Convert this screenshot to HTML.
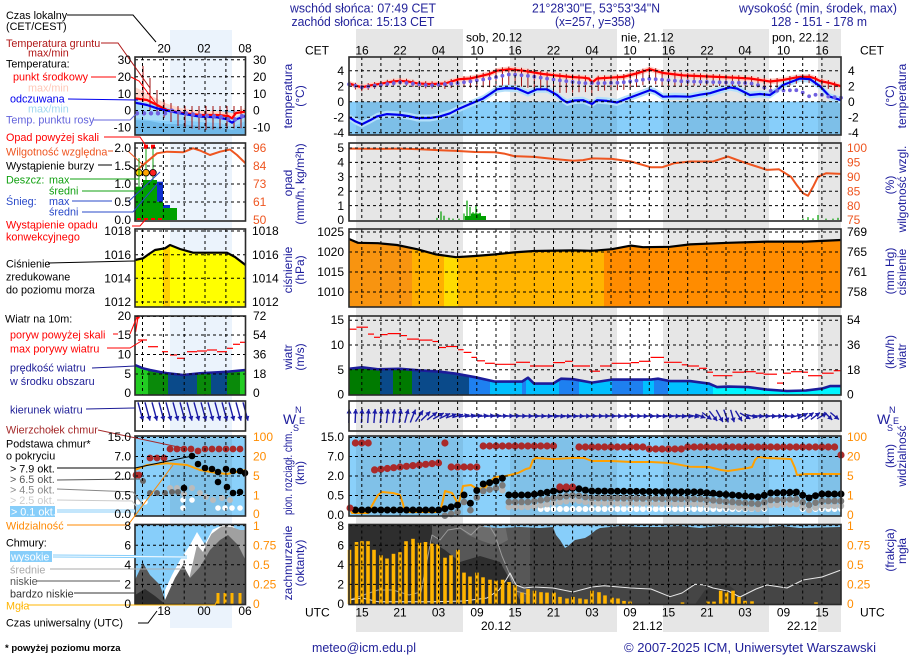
<!DOCTYPE html>
<html><head><meta charset="utf-8"><title>meteogram</title>
<style>
html,body{margin:0;padding:0;background:#fff;width:910px;height:660px;overflow:hidden}
svg{display:block}
text{font-family:"Liberation Sans",Arial,sans-serif}
.ax{font-size:12px;fill:#000}
.lb{font-size:10.8px}
.tt{font-size:12px;fill:#1c1c9c}
.hd{font-size:12.5px;fill:#22229a}
</style></head><body>
<svg id="s" width="910" height="660" viewBox="0 0 910 660" xmlns="http://www.w3.org/2000/svg">
<defs id="defs"></defs>
<rect width="910" height="660" fill="#fff"/>
<g id="bg"></g>
<g id="c"></g>
<g id="gr"></g>
<g id="fr"></g>
<g id="lead" fill="none" stroke-width="1">
<polyline points="67,15 133,15 156,42" stroke="#000"/>
<polyline points="101,43 118,43 150,88" stroke="#b01818"/>
<polyline points="91,77 116,77" stroke="#f00"/>
<polyline points="131,77 139,81 157,105" stroke="#f00"/>
<polyline points="68,99 138,100" stroke="#0000ee"/>
<polyline points="93,120 130,120 137,113" stroke="#6464dc"/>
<polyline points="104,137 140,137 146,146" stroke="#f00"/>
<polyline points="108,151 113,151" stroke="#ee5520"/>
<polyline points="128,151 143,165" stroke="#ee5520"/>
<polyline points="98,165 112,165" stroke="#000"/>
<polyline points="128,165 137,171" stroke="#000"/>
<polyline points="70,179 139,179 139,158" stroke="#10a010"/>
<polyline points="82,191 142,191 150,181" stroke="#10a010"/>
<polyline points="72,201 112,201" stroke="#2848c8"/>
<polyline points="128,202 160,172" stroke="#2848c8"/>
<polyline points="82,212 133,212 157,184" stroke="#2848c8"/>
<polyline points="132,226 140,226 146,219" stroke="#f00"/>
<polyline points="48,263 135,261" stroke="#000"/>
<polyline points="113,334 118,334" stroke="#f00"/>
<polyline points="130,334 137,317" stroke="#f00"/>
<polyline points="107,348 130,348 143,340" stroke="#f00"/>
<polyline points="92,368 135,366" stroke="#1c1c96"/>
<polyline points="86,409 135,408" stroke="#1c1c96"/>
<polyline points="98,430 183,448" stroke="#a52a2a"/>
<polyline points="57,468 135,468 192,456" stroke="#000"/>
<polyline points="57,480 140,479" stroke="#555"/>
<polyline points="57,489 133,492 143,505" stroke="#888"/>
<polyline points="57,500 132,501 137,507" stroke="#ccc"/>
<polyline points="57,511 135,511" stroke="#87cefa" stroke-width="3"/>
<polyline points="57,511 135,511" stroke="#fff"/>
<polyline points="67,525 128,525 173,465" stroke="#ff8800"/>
<polyline points="53,556 187,557" stroke="#87cefa" stroke-width="3"/>
<polyline points="53,556 187,557" stroke="#fff"/>
<polyline points="50,569 185,569" stroke="#aaa"/>
<polyline points="37,581 120,581" stroke="#555"/>
<polyline points="74,593 135,593" stroke="#333"/>
<polyline points="28,605 215,605 219,597" stroke="#ffb400"/>
<polyline points="138,623 148,623 157,611" stroke="#000"/>
</g>
<g id="txt">
<text class="hd" x="363" y="12.5" text-anchor="middle" textLength="146" lengthAdjust="spacingAndGlyphs">wschód słońca: 07:49 CET</text>
<text class="hd" x="363" y="26" text-anchor="middle" textLength="143" lengthAdjust="spacingAndGlyphs">zachód słońca: 15:13 CET</text>
<text class="hd" x="596" y="12.5" text-anchor="middle" textLength="128" lengthAdjust="spacingAndGlyphs">21°28'30"E, 53°53'34"N</text>
<text class="hd" x="595" y="26" text-anchor="middle" textLength="80" lengthAdjust="spacingAndGlyphs">(x=257,  y=358)</text>
<text class="hd" x="818" y="12.5" text-anchor="middle" textLength="158" lengthAdjust="spacingAndGlyphs">wysokość (min, środek, max)</text>
<text class="hd" x="819" y="26" text-anchor="middle" textLength="96" lengthAdjust="spacingAndGlyphs">128 - 151 - 178 m</text>
<text class="ax" x="305" y="54.5">CET</text>
<text class="ax" x="860" y="54.5">CET</text>
<g class="ax" text-anchor="middle">
<text x="362" y="54.5">16</text><text x="400" y="54.5">22</text><text x="438.5" y="54.5">04</text><text x="477" y="54.5">10</text>
<text x="515" y="54.5">16</text><text x="553.5" y="54.5">22</text><text x="592" y="54.5">04</text><text x="630" y="54.5">10</text>
<text x="668.5" y="54.5">16</text><text x="707" y="54.5">22</text><text x="745" y="54.5">04</text><text x="783.5" y="54.5">10</text><text x="822" y="54.5">16</text>
<text x="164" y="52.5">20</text><text x="204" y="52.5">02</text><text x="245" y="52.5">08</text>
</g>
<text class="ax" x="466" y="41.5">sob, 20.12</text>
<text class="ax" x="621" y="41.5">nie, 21.12</text>
<text class="ax" x="772" y="41.5">pon, 22.12</text>
<text class="ax" x="305" y="616.5">UTC</text>
<text class="ax" x="860" y="616.5">UTC</text>
<g class="ax" text-anchor="middle">
<text x="362" y="616.5">15</text><text x="400" y="616.5">21</text><text x="438.5" y="616.5">03</text><text x="477" y="616.5">09</text>
<text x="515" y="616.5">15</text><text x="553.5" y="616.5">21</text><text x="592" y="616.5">03</text><text x="630" y="616.5">09</text>
<text x="668.5" y="616.5">15</text><text x="707" y="616.5">21</text><text x="745" y="616.5">03</text><text x="783.5" y="616.5">09</text><text x="822" y="616.5">15</text>
<text x="496" y="630">20.12</text><text x="647.5" y="630">21.12</text><text x="802" y="630">22.12</text>
<text x="164" y="615">18</text><text x="204" y="615">00</text><text x="245" y="615">06</text>
</g>
<g class="ax" text-anchor="end">
<text x="344" y="74.9">4</text><text x="344" y="90.4">2</text><text x="344" y="105.9">0</text><text x="344" y="121.4">-2</text><text x="344" y="136.9">-4</text>
<text x="344" y="152.2">5</text><text x="344" y="166.6">4</text><text x="344" y="181">3</text><text x="344" y="195.4">2</text><text x="344" y="209.8">1</text><text x="344" y="224.2">0</text>
<text x="344" y="236.2">1025</text><text x="344" y="256.2">1020</text><text x="344" y="276.2">1015</text><text x="344" y="296.2">1010</text>
<text x="344" y="324.2">15</text><text x="344" y="349.2">10</text><text x="344" y="374.2">5</text><text x="344" y="398.7">0</text>
<text x="344" y="441.2">15.0</text><text x="344" y="460.7">7.0</text><text x="344" y="480.2">2.0</text><text x="344" y="499.7">0.5</text><text x="344" y="519.2">0.0</text>
<text x="344" y="529.8">8</text><text x="344" y="549.4">6</text><text x="344" y="569">4</text><text x="344" y="588.6">2</text><text x="344" y="608.2">0</text>
</g>
<g class="ax">
<text x="848" y="74.9">4</text><text x="848" y="90.4">2</text><text x="848" y="105.9">0</text><text x="848" y="121.4">-2</text><text x="848" y="136.9">-4</text>
<g fill="#ee5520"><text x="847" y="152.2">100</text><text x="847" y="166.6">95</text><text x="847" y="181">90</text><text x="847" y="195.4">85</text><text x="847" y="209.8">80</text><text x="847" y="224.2">75</text></g>
<text x="847" y="236.2">769</text><text x="847" y="256.2">765</text><text x="847" y="276.2">761</text><text x="847" y="296.2">758</text>
<text x="847" y="324.2">54</text><text x="847" y="349.2">36</text><text x="847" y="374.2">18</text><text x="847" y="398.7">0</text>
<g fill="#ff8c00"><text x="847" y="441.2">100</text><text x="847" y="460.7">20</text><text x="847" y="480.2">5</text><text x="847" y="499.7">1</text><text x="847" y="519.2">0</text>
<text x="847" y="529.8">1</text><text x="847" y="549.4">0.75</text><text x="847" y="569">0.5</text><text x="847" y="588.6">0.25</text><text x="847" y="608.2">0</text></g>
</g>
<g class="ax" text-anchor="end">
<text x="131" y="64">30</text><text x="131" y="80.9">20</text><text x="131" y="97.8">10</text><text x="131" y="114.7">0</text><text x="131" y="131.6">-10</text>
<text x="131" y="152.2">2.0</text><text x="131" y="170.2">1.5</text><text x="131" y="188.2">1.0</text><text x="131" y="206.2">0.5</text><text x="131" y="224.2">0.0</text>
<text x="131" y="235.2">1018</text><text x="131" y="258.9">1016</text><text x="131" y="282.5">1014</text><text x="131" y="306.2">1012</text>
<text x="131" y="320.2">20</text><text x="131" y="339.2">15</text><text x="131" y="358.7">10</text><text x="131" y="378.2">5</text><text x="131" y="397.2">0</text>
<text x="131" y="441.2">15.0</text><text x="131" y="460.7">7.0</text><text x="131" y="480.2">2.0</text><text x="131" y="499.7">0.5</text><text x="131" y="518.2">0.0</text>
<text x="131" y="529.8">8</text><text x="131" y="549.4">6</text><text x="131" y="569">4</text><text x="131" y="588.6">2</text><text x="131" y="608.2">0</text>
</g>
<g class="ax">
<text x="253" y="64">30</text><text x="253" y="80.9">20</text><text x="253" y="97.8">10</text><text x="253" y="114.7">0</text><text x="253" y="131.6">-10</text>
<g fill="#ee5520"><text x="253" y="152.2">96</text><text x="253" y="170.2">84</text><text x="253" y="188.2">73</text><text x="253" y="206.2">61</text><text x="253" y="224.2">50</text></g>
<text x="252" y="235.2">1018</text><text x="252" y="258.9">1016</text><text x="252" y="282.5">1014</text><text x="252" y="306.2">1012</text>
<text x="253" y="320.2">72</text><text x="253" y="339.2">54</text><text x="253" y="358.7">36</text><text x="253" y="378.2">18</text><text x="253" y="397.2">0</text>
<g fill="#ff8c00"><text x="253" y="441.2">100</text><text x="253" y="460.7">20</text><text x="253" y="480.2">5</text><text x="253" y="499.7">1</text><text x="253" y="518.2">0</text>
<text x="253" y="529.8">1</text><text x="253" y="549.4">0.75</text><text x="253" y="569">0.5</text><text x="253" y="588.6">0.25</text><text x="253" y="608.2">0</text></g>
</g>
<g class="tt" text-anchor="middle">
<text transform="translate(292,96) rotate(-90)">temperatura</text>
<text transform="translate(304,96) rotate(-90)">(°C)</text>
<text transform="translate(292,183) rotate(-90)">opad</text>
<text transform="translate(304,184) rotate(-90)">(mm/h, kg/m²h)</text>
<text transform="translate(292,270) rotate(-90)">ciśnienie</text>
<text transform="translate(304,270) rotate(-90)">(hPa)</text>
<text transform="translate(292,357) rotate(-90)">wiatr</text>
<text transform="translate(304,357) rotate(-90)">(m/s)</text>
<text transform="translate(292,473) rotate(-90)" textLength="84" lengthAdjust="spacingAndGlyphs">pion. rozciągł. chm.</text>
<text transform="translate(304,473) rotate(-90)">(km)</text>
<text transform="translate(292,563) rotate(-90)">zachmurzenie</text>
<text transform="translate(304,563) rotate(-90)">(oktanty)</text>
<text transform="translate(894,96) rotate(-90)">(°C)</text>
<text transform="translate(906,96) rotate(-90)">temperatura</text>
<text transform="translate(894,185) rotate(-90)">(%)</text>
<text transform="translate(906,189) rotate(-90)">wilgotność wzgl.</text>
<text transform="translate(894,271) rotate(-90)">(mm Hg)</text>
<text transform="translate(906,272) rotate(-90)">ciśnienie</text>
<text transform="translate(894,352) rotate(-90)">(km/h)</text>
<text transform="translate(906,356) rotate(-90)">wiatr</text>
<text transform="translate(894,456) rotate(-90)">(km)</text>
<text transform="translate(906,456) rotate(-90)">widzialność</text>
<text transform="translate(894,550) rotate(-90)">(frakcja)</text>
<text transform="translate(906,551) rotate(-90)">mgła</text>
</g>
<g fill="#1c1c9c">
<text x="283" y="424" font-size="14">W</text><text x="295" y="413" font-size="9">N</text><text x="293" y="431" font-size="9">S</text><text x="299" y="424" font-size="9">E</text>
<text x="877" y="424" font-size="14">W</text><text x="889" y="413" font-size="9">N</text><text x="887" y="431" font-size="9">S</text><text x="893" y="424" font-size="9">E</text>
</g>
<g class="lb">
<text x="6" y="19" fill="#000">Czas lokalny</text>
<text x="6" y="30" fill="#000">(CET/CEST)</text>
<text x="6" y="47" fill="#b01818">Temperatura gruntu</text>
<text x="28" y="56.3" fill="#b01818">max/min</text>
<text x="6" y="67.3" fill="#000">Temperatura:</text>
<text x="13" y="80.7" fill="#f00">punkt środkowy</text>
<text x="28" y="91.3" fill="#ffc8b8">max/min</text>
<text x="10" y="102.7" fill="#0000ee">odczuwana</text>
<text x="28" y="112.7" fill="#a0d8f0">max/min</text>
<text x="6" y="123.3" fill="#6464dc">Temp. punktu rosy</text>
<text x="6" y="141" fill="#f00">Opad powyżej skali</text>
<text x="6" y="155.7" fill="#ee5520">Wilgotność względna</text>
<text x="6" y="169.7" fill="#000">Wystąpienie burzy</text>
<text x="6" y="183.3" fill="#10a010">Deszcz:</text>
<text x="49" y="183.3" fill="#10a010">max</text>
<text x="49" y="194.7" fill="#10a010">średni</text>
<text x="6" y="205" fill="#2848c8">Śnieg:</text>
<text x="49" y="205" fill="#2848c8">max</text>
<text x="49" y="215.7" fill="#2848c8">średni</text>
<text x="6" y="228.3" fill="#f00">Wystąpienie opadu</text>
<text x="6" y="240.7" fill="#f00">konwekcyjnego</text>
<text x="6" y="267.3" fill="#000">Ciśnienie</text>
<text x="6" y="280.7" fill="#000">zredukowane</text>
<text x="6" y="293.3" fill="#000">do poziomu morza</text>
<text x="5" y="322.3" fill="#000">Wiatr na 10m:</text>
<text x="10" y="338.3" fill="#f00">poryw powyżej skali</text>
<text x="10" y="352.3" fill="#f00">max porywy wiatru</text>
<text x="10" y="371.7" fill="#1c1c96">prędkość wiatru</text>
<text x="10" y="385" fill="#1c1c96">w środku obszaru</text>
<text x="10" y="413.3" fill="#1c1c96">kierunek wiatru</text>
<text x="6" y="433.3" fill="#a52a2a">Wierzchołek chmur</text>
<text x="6" y="447.3" fill="#000">Podstawa chmur*</text>
<text x="6" y="459.7" fill="#000">o pokryciu</text>
<text x="10" y="472.3" fill="#000">&gt; 7.9 okt.</text>
<text x="10" y="483" fill="#555">&gt; 6.5 okt.</text>
<text x="10" y="493.3" fill="#888">&gt; 4.5 okt.</text>
<text x="10" y="504" fill="#ccc">&gt; 2.5 okt.</text>
<rect x="10" y="506" width="45" height="11" fill="#87cefa"/>
<text x="11" y="515.7" fill="#fff">&gt; 0.1 okt.</text>
<text x="6" y="529.7" fill="#ff8800">Widzialność</text>
<text x="6" y="546.7" fill="#000">Chmury:</text>
<rect x="10" y="551" width="42" height="11" fill="#87cefa"/>
<text x="11" y="560.7" fill="#fff">wysokie</text>
<text x="10" y="573.3" fill="#aaa">średnie</text>
<text x="10" y="585" fill="#555">niskie</text>
<text x="10" y="597.3" fill="#333">bardzo niskie</text>
<text x="6" y="609.3" fill="#ffb400">Mgła</text>
<text x="6" y="626.7" fill="#000">Czas uniwersalny (UTC)</text>
</g>
<text x="5" y="651" font-size="9.5" font-weight="bold" fill="#000">* powyżej poziomu morza</text>
<text class="hd" x="312" y="652" textLength="104" lengthAdjust="spacingAndGlyphs">meteo@icm.edu.pl</text>
<text class="hd" x="624" y="652" textLength="252" lengthAdjust="spacingAndGlyphs">© 2007-2025 ICM, Uniwersytet Warszawski</text>
</g>
</svg>
<script>
(function(){
const NS="http://www.w3.org/2000/svg";
const $=id=>document.getElementById(id);
function el(p,t,a){const e=document.createElementNS(NS,t);for(const k in a)e.setAttribute(k,a[k]);p.appendChild(e);return e;}
function lerp(a,x){if(x<=a[0][0])return a[0][1];for(let i=1;i<a.length;i++){if(x<=a[i][0]){const d=(a[i][0]-a[i-1][0])||1;const t=(x-a[i-1][0])/d;return a[i-1][1]+t*(a[i][1]-a[i-1][1]);}}return a[a.length-1][1];}
const f1=v=>(+v).toFixed(1);
function P(a,fy){return a.map(p=>f1(p[0])+','+f1(fy?fy(p[1]):p[1])).join(' ');}
function poly(g,a,fy,at){return el(g,'polyline',Object.assign({points:P(a,fy),fill:'none','stroke-linejoin':'round'},at));}
function band(g,a,fu,fl,fill){const up=a.map(p=>f1(p[0])+','+f1(fu(p[1])));const lo=a.slice().reverse().map(p=>f1(p[0])+','+f1(fl(p[1])));return el(g,'polygon',{points:up.concat(lo).join(' '),fill:fill});}
function area(g,a,fy,base,fill){const pts=a.map(p=>f1(p[0])+','+f1(fy(p[1])));pts.push(f1(a[a.length-1][0])+','+base);pts.unshift(f1(a[0][0])+','+base);return el(g,'polygon',{points:pts.join(' '),fill:fill});}
function arrow(g,cx,cy,ang,len,col,w){const a=ang*Math.PI/180;const ux=Math.sin(a),uy=-Math.cos(a);const x1=cx-ux*len/2,y1=cy-uy*len/2,x2=cx+ux*len/2,y2=cy+uy*len/2;
 el(g,'line',{x1:f1(x1),y1:f1(y1),x2:f1(x2),y2:f1(y2),stroke:col,'stroke-width':w||1.4});
 const hl=4.5,hw=2.6,px=-uy,py=ux,bx=x2-ux*hl,by=y2-uy*hl;
 el(g,'polygon',{points:f1(x2)+','+f1(y2)+' '+f1(bx+px*hw)+','+f1(by+py*hw)+' '+f1(bx-px*hw)+','+f1(by-py*hw),fill:col});}
const L=349,R=841,PX=6.39;const X=h=>L+h*PX;
const hours=[];for(let h=0;h<=77;h++){const x=X(h);if(x<=R+0.5)hours.push(x);}
const NIGHT=[[356,463],[510,617],[663,769],[818,841]];
const bg=$('bg'),c=$('c'),gr=$('gr'),fr=$('fr'),defs=$('defs');
NIGHT.forEach(b=>el(bg,'rect',{x:b[0],y:29,width:b[1]-b[0],height:603,fill:'#e6e6e6'}));
el(bg,'rect',{x:170,y:30,width:62,height:598,fill:'#ebf3fc'});
function nightOv(y,h,op){NIGHT.forEach(b=>el(c,'rect',{x:b[0],y:y,width:b[1]-b[0],height:h,fill:'#000',opacity:op}));}

const yT=v=>101.7-v*7.75;
el(c,'rect',{x:L,y:101.7,width:R-L,height:33.3,fill:'#87cefa'});nightOv(101.7,33.3,0.07);
const TR=[[349,2.37],[355,2.1],[362,1.86],[370,2.1],[383,2.37],[393,2.6],[400,2.7],[408,2.6],[417,2.37],[425,2.3],[433,2.28],[445,2.35],[459,2.9],[470,3.0],[477,3.2],[490,3.6],[497,4.0],[510,4.2],[523,4.0],[533,3.8],[543,3.57],[555,3.4],[570,3.2],[583,3.1],[589,3.0],[592,2.45],[597,3.0],[610,3.1],[623,3.2],[637,3.66],[650,4.2],[655,4.0],[663,3.7],[683,3.4],[700,3.3],[717,3.2],[735,3.1],[750,3.0],[760,2.8],[770,2.6],[783,2.8],[795,3.1],[800,3.2],[810,3.2],[815,3.0],[820,2.67],[830,2.4],[841,2.0]];
const TB=[[349,-2.0],[355,-2.5],[362,-2.9],[370,-2.4],[377,-1.9],[387,-1.6],[400,-1.7],[410,-1.9],[417,-2.1],[430,-2.1],[440,-1.9],[450,-1.5],[459,-0.9],[470,-0.3],[483,0.4],[490,1.0],[497,1.6],[505,1.75],[517,1.7],[528,1.1],[537,1.6],[547,1.6],[557,0.86],[562,0.3],[567,-0.1],[575,0.15],[583,0.2],[592,-0.3],[597,0.2],[607,0.1],[617,-0.1],[625,0.3],[637,0.86],[650,1.5],[655,1.3],[663,0.65],[675,0.7],[690,0.65],[700,0.9],[710,1.1],[720,1.5],[730,1.85],[737,1.7],[750,0.86],[760,1.0],[770,0.86],[778,1.6],[783,2.15],[800,3.0],[810,2.9],[820,2.0],[830,0.65],[841,0.2]];
const TD=[[349,2.25],[362,1.85],[400,2.5],[430,2.1],[459,2.4],[490,3.0],[510,3.55],[530,3.3],[560,2.75],[583,2.4],[600,2.4],[620,2.45],[650,2.95],[680,2.65],[720,2.5],[750,2.4],[762,2.0],[770,1.4],[800,1.5],[806,0.8],[812,0.6],[818,1.1],[825,0.7],[833,0.6],[841,0.5]];
band(c,TR,v=>yT(v+0.35),v=>yT(v-0.35),'#ffd0c6');
band(c,TB,v=>yT(v+0.45),v=>yT(v-0.45),'#b4e0fa');
const GL=[[349,0.5],[440,0.6],[470,1.2],[500,2.0],[560,2.2],[600,1.6],[650,1.8],[700,1.2],[760,1.0],[800,0.8],[841,0.8]];
hours.forEach(x=>{const t=lerp(TR,x);el(c,'line',{x1:f1(x),y1:f1(yT(t+0.35)),x2:f1(x),y2:f1(yT(t-lerp(GL,x))),stroke:'#a01010','stroke-width':1});});
poly(c,TR,yT,{stroke:'#ff0000','stroke-width':2.2});
poly(c,TB,yT,{stroke:'#0000ee','stroke-width':2.2});
hours.forEach(x=>el(c,'circle',{cx:f1(x),cy:f1(yT(lerp(TD,x))),r:1.9,fill:'#7060e0'}));

const yP=v=>220-v*14.4, yRH=r=>220-(r-75)*2.88;
el(c,'rect',{x:465,y:f1(yP(0.28)),width:21,height:f1(220-yP(0.28)),fill:'#00a000'});
el(c,'rect',{x:471,y:f1(yP(0.45)),width:10,height:f1(220-yP(0.45)),fill:'#00a000'});
[[437,0.15],[441,0.6],[444,0.3],[449,0.15],[453,0.1],[459,0.1],[464,0.45],[467,1.35],[470,0.9],[473,0.55],[476,1.0],[480,0.5],[485,0.2],[803,0.1],[808,0.2],[813,0.12],[818,0.35],[826,0.1],[833,0.1],[838,0.15]].forEach(b=>el(c,'line',{x1:b[0],y1:220,x2:b[0],y2:f1(yP(b[1])),stroke:'#00a000','stroke-width':1.2}));
const RH=[[349,99.8],[380,99.7],[400,99.8],[420,99.6],[440,99.2],[456,99],[475,98.6],[495,98.5],[505,98],[514,97.2],[534,96.9],[553,96.2],[573,95.6],[583,95.8],[592,96.4],[612,96.2],[631,95.3],[651,93.3],[662,93.3],[674,94.7],[690,95.3],[713,95.3],[728,97],[740,95.5],[752,94.1],[767,92.4],[779,92.6],[791,90],[797,87],[803,84.3],[808,83.4],[813,86.5],[818,90],[826,91.2],[841,91]];
poly(c,RH,yRH,{stroke:'#ee5520','stroke-width':2});

const yPr=p=>232+(1025-p)*4;
const PR=[[349,1023.25],[358,1022.3],[378,1022.2],[397,1021.75],[417,1020.7],[436,1019.4],[456,1018.7],[475,1019],[495,1019.4],[514,1019.9],[534,1020.25],[573,1020.4],[592,1020.3],[612,1020.7],[631,1021.6],[643,1021.2],[670,1021.3],[690,1021.9],[728,1022.3],[767,1022.6],[806,1022.6],[841,1023]];
const cpP=el(defs,'clipPath',{id:'cpP'});area(cpP,PR,yPr,307,'#000');
const gP=el(c,'g',{'clip-path':'url(#cpP)'});
[[349,412,'#f89410'],[412,444,'#ffb000'],[444,458,'#ffdc00'],[458,604,'#ffb400'],[604,841,'#ff8c00']].forEach(b=>el(gP,'rect',{x:b[0],y:229,width:b[1]-b[0],height:78,fill:b[2]}));
poly(c,PR,yPr,{stroke:'#000','stroke-width':2.2});

const yW=v=>394.5-v*4.95;
const WS=[[349,5.2],[362,5.5],[378,5.1],[400,5.2],[417,4.9],[440,4.6],[456,4.2],[475,3.5],[495,2.6],[522,2.6],[528,3.4],[534,2.2],[553,2.2],[561,3.2],[573,3.1],[592,2.4],[612,3.0],[651,3.0],[658,3.2],[670,2.7],[690,2.7],[709,2.2],[717,1.5],[728,1.6],[748,1.5],[767,1.0],[787,0.7],[806,0.8],[822,1.2],[830,1.7],[841,1.7]];
const cpW=el(defs,'clipPath',{id:'cpW'});area(cpW,WS,yW,395,'#000');
const gW=el(c,'g',{'clip-path':'url(#cpW)'});
[[349,380,'#007a00'],[380,393,'#0a4a8a'],[393,412,'#007a00'],[412,469,'#0a4a8a'],[469,490,'#1e80f0'],[490,522,'#00bfff'],[522,526,'#1e80f0'],[526,559,'#00bfff'],[559,579,'#1e80f0'],[579,612,'#00bfff'],[612,643,'#1e80f0'],[643,654,'#00bfff'],[654,668,'#1e80f0'],[668,713,'#00bfff'],[713,841,'#00f5ff']].forEach(b=>el(gW,'rect',{x:b[0],y:316,width:b[1]-b[0],height:79,fill:b[2]}));
poly(c,WS,yW,{stroke:'#1c1c9a','stroke-width':2.6});
[[349,356.5,13.2],[356.5,368,13.6],[368,374,12.2],[374,380,11.55],[380,387.6,12.1],[387.6,401,12.3],[401,407,11.9],[407,419,11.2],[419,432.5,11.0],[432.5,438,10.7],[438,446,9.5],[446,458,9.7],[458,463.6,9.05],[463.6,471.4,8.5],[471.4,477,7.5],[477,485,6.8],[485,494.8,6.3],[494.8,516,6.1],[516,530,6.5],[530,553,5.75],[553,565,6.45],[565,572.7,6.7],[572.7,590,5.75],[590,600,4.7],[600,611.6,5.75],[611.6,631,6.3],[631,639,6.45],[639,650.6,6.7],[650.6,664,7.5],[664,681.8,6.5],[681.8,687.6,6.0],[687.6,699,5.75],[699,707,5.3],[707,713,4.5],[713,732.4,3.8],[732.4,744,4.5],[744,755.8,4.6],[755.8,763.6,4.3],[763.6,777,4.1],[777,783,2.3],[783,791,4.3],[791,802.5,4.6],[802.5,808,4.5],[808,822,3.8],[822,833.7,4.3],[833.7,841,4.8]].forEach(d=>el(c,'line',{x1:d[0],y1:f1(yW(d[2])),x2:d[1],y2:f1(yW(d[2])),stroke:'#ff0000','stroke-width':1.2}));

const ANG=[[349,2],[400,8],[412,20],[425,45],[440,62],[460,75],[475,82],[500,86],[530,92],[560,96],[600,90],[650,93],[690,96],[700,110],[712,140],[725,160],[735,165],[745,120],[755,95],[790,92],[800,65],[812,50],[822,60],[828,135],[841,125]];
const LEN=[[349,14],[412,14],[440,12],[470,10.5],[700,10.5],[720,14],[745,12],[841,11]];
hours.forEach(x=>{if(x>R-2)return;arrow(c,x,416,lerp(ANG,x),lerp(LEN,x),'#1c1ca6',1.4);});

el(c,'rect',{x:L,y:436,width:R-L,height:80,fill:'#8ad0fa'});nightOv(436,80,0.07);
const VIS=[[349,508],[352,513],[368,513],[375,500],[378,495],[382,492],[393,493],[400,495],[403,504],[405,512],[440,512],[443,500],[445,491],[452,493],[456,500],[458,505],[461,495],[463,486],[471,485],[477,489],[485,488],[490,482],[495,477],[506,476],[518,473],[526,469],[530,468],[533,460],[536,458],[553,459],[573,458],[584,458],[592,461],[612,461],[631,462],[651,462],[670,463],[690,466.7],[709,467],[721,470],[728,471],[748,468],[752,467],[755,460],[758,457],[767,458],[791,459],[795,468],[797,475],[806,474],[818,474],[841,474]];
poly(c,VIS,null,{stroke:'#ffa000','stroke-width':2});
const YB=[[349,510],[440,510],[458,505],[464,495],[471,504],[477,490],[483,484],[497,481],[503,478],[508,495],[530,495],[560,490],[575,488],[590,491],[700,492],[720,494],[745,496],[760,497],[770,493],[800,492],[805,498],[812,498],[818,494],[841,494]];
function topY(x){if(x<372)return 443;if(x<441)return lerp([[374,470],[400,467],[438,463]],x);if(x<448)return 443;if(x<480)return 467;if(x<557)return 446;if(x<576)return 487;if(x>839)return 455;if(x>=643&&x<687)return 449;return 447;}
hours.forEach((x,i)=>{if(i===0)return;const by=lerp(YB,x);
 if(x>=540)el(c,'circle',{cx:f1(x),cy:(x>=770&&x<=800)?500:509,r:3,fill:'#fff'});
 if(x>=500)el(c,'circle',{cx:f1(x),cy:f1(by+12),r:3.2,fill:'#b8b8b8'});
 if(x>=440)el(c,'circle',{cx:f1(x),cy:f1(by+7),r:3.3,fill:'#7a7a7a'});
 el(c,'circle',{cx:f1(x),cy:f1(by),r:3.5,fill:'#000'});
 el(c,'circle',{cx:f1(x),cy:f1(topY(x)),r:3.6,fill:'#aa2a2a'});});
el(c,'circle',{cx:350,cy:508,r:3.5,fill:'#aa2a2a'});

el(c,'rect',{x:L,y:524.5,width:R-L,height:80,fill:'#454545'});
el(c,'rect',{x:L,y:524.5,width:530-L,height:80,fill:'#2e2e2e'});
el(c,'polygon',{points:'432,524.5 530,524.5 530,604.5 520,600 510,580 500,562 480,556 460,562 445,550 432,542',fill:'#575757'});
el(c,'polygon',{points:'455,524.5 505,524.5 508,540 497,546 482,541 468,535',fill:'#6c6c6c'});
el(c,'polygon',{points:'695,604.5 705,590 715,585 725,582 735,590 745,604.5',fill:'#383838'});
el(c,'polygon',{points:'483,524.5 841,524.5 841,527 800,528 780,526 760,528 740,527 720,526 700,528 680,526 660,527 640,527 620,526 600,528 596,530 590,535 585,538 575,540 568,546 565,548 560,540 556,535 553,527 540,528 520,527 500,528 483,527',fill:'#87cefa'});
poly(c,[[349,600],[378,590],[393,590],[409,595],[421,592],[432,535],[440,540],[448,530],[460,528],[471,535],[479,527],[489,525],[495,535],[502,556],[510,575],[516,591],[530,595]],null,{stroke:'#9a9a9a','stroke-width':1});
poly(c,[[349,600],[362,598],[378,601.7],[432,601.7],[463.6,601],[487,598],[499,590],[506,580],[510,573],[516,585],[524,588],[534,587],[553,588],[573,592],[592,587],[604,585.7],[631,588],[651,589],[670,596.7],[682,593],[695,584.3],[705,585],[713,588],[728,591],[740,597],[756,589],[767,585],[787,588],[803,580],[822,577],[841,570]],null,{stroke:'#e8e8e8','stroke-width':1});
const yM=f=>604-f*78.5;
[[349.5,0.69],[356.5,0.79],[362,0.80],[368,0.80],[374,0.69],[381,0.62],[387,0.58],[393.5,0.64],[400,0.66],[406,0.80],[413,0.83],[419.5,0.78],[425.5,0.79],[432,0.77],[438,0.76],[445,0.59],[451,0.62],[458,0.69],[464,0.40],[470,0.35],[477,0.40],[483,0.34],[490,0.31],[496,0.30],[502.6,0.31],[509,0.28],[515,0.24],[522,0.145],[528,0.19],[534.5,0.17],[541,0.15],[547,0.145],[554,0.145],[560,0.09],[567,0.07],[573,0.09],[580,0.07],[586,0.06],[592,0.17],[599,0.15],[605,0.11],[612,0.08],[618,0.07],[624,0.04],[630,0.03],[682.5,0.02],[708,0.03],[714,0.03],[720.7,0.17],[726.6,0.15],[733,0.17],[739,0.09],[745,0.04],[752,0.035],[816,0.02]].forEach(b=>el(c,'rect',{x:f1(b[0]-1.8),y:f1(yM(b[1])),width:3.6,height:f1(604-yM(b[1])),fill:'#ffb400'}));

el(c,'rect',{x:135,y:110.5,width:110.5,height:24,fill:'#87cefa'});
el(c,'polygon',{points:'135,87 150,95 165,103 180,108 200,111 220,111 232,113 245.5,108 245.5,113 232,120 220,117 200,117 180,114 165,110 150,104 135,102',fill:'#ffd8cc'});
el(c,'polygon',{points:'135,100 150,103 165,107 180,111 200,114 220,114 232,118 245.5,113 245.5,121 232,127 220,123 200,122 180,120 165,121 150,120 135,118',fill:'#a8dcf8'});
el(c,'polygon',{points:'135,120 150,121 165,124 180,124 200,126 220,127 232,130 245.5,126 245.5,134.5 135,134.5',fill:'#6fb8e8'});
for(let k=0;k<15;k++){const x=143+7*k;const t=lerp([[143,66],[150,78],[157,90],[164,100],[178,106],[246,106]],x),b=lerp([[143,102],[150,110],[164,118],[178,126],[200,130],[246,128]],x);el(c,'line',{x1:x,y1:f1(t),x2:x,y2:f1(b),stroke:'#a01010','stroke-width':1});}
const LTR=[[135,98.3],[147,100],[157,105],[167,110],[180,112.7],[200,115],[217,115],[228,116],[232,118.3],[236,113],[245.5,111.7]];
const LTB=[[135,102.7],[147,105],[157,108.3],[167,110.7],[180,113.3],[200,116.7],[217,117.3],[226,119],[232,122.7],[237,119],[245.5,116]];
poly(c,LTR,null,{stroke:'#ff0000','stroke-width':2.2});
poly(c,LTB,null,{stroke:'#0000ee','stroke-width':2.2});
for(let k=0;k<16;k++){const x=137+7*k;if(x>245)break;const y=x<166?113.3:lerp(LTB,x)-1;el(c,'circle',{cx:x,cy:f1(y),r:2.2,fill:'#7060e0'});}

[[135,143,186.7,'#00a000'],[143,157,180,'#00a000'],[157,163,201.7,'#00a000'],[163,177,208,'#00a000']].forEach(b=>el(c,'rect',{x:b[0],y:b[2],width:b[1]-b[0],height:220-b[2],fill:b[3]}));
el(c,'rect',{x:157,y:181.7,width:6,height:20,fill:'#1030d0'});
el(c,'rect',{x:163,y:205,width:7,height:3,fill:'#1030d0'});
[[139,158,187],[146,147,180],[153,147,180]].forEach(l=>el(c,'line',{x1:l[0],y1:l[1],x2:l[0],y2:l[2],stroke:'#10a010','stroke-width':1}));
poly(c,[[135,171.7],[147,161.7],[157,153.3],[167,151.7],[183,152.3],[193,148.3],[200,150.5],[210,155],[220,151.7],[230,149.5],[237,155],[245.5,163.3]],null,{stroke:'#ee5520','stroke-width':2});
[[139,'#ffd700'],[146,'#ffa500'],[153,'#ff2020']].forEach(d=>el(c,'circle',{cx:d[0],cy:172.7,r:3.3,fill:d[1],stroke:'#000','stroke-width':0.8}));
[146,153].forEach(x=>el(c,'rect',{x:x-2,y:144.7,width:4,height:4,fill:'#f00'}));
[137,144,151,158].forEach(x=>el(c,'line',{x1:x,y1:219,x2:x+4,y2:219,stroke:'#f00','stroke-width':2}));

const LPR=[[135,260],[143,258.3],[149,254],[155,250],[165,248.3],[170,245],[180,249],[193,252.7],[227,252.7],[235,257],[245.5,265]];
area(c,LPR,v=>v,307,'#ffff00');
el(c,'polygon',{points:'163,'+f1(lerp(LPR,163))+' 165,248.3 170,245 170,307 163,307',fill:'#ffd000'});
poly(c,LPR,null,{stroke:'#000','stroke-width':2.2});

const LWS=[[135,365],[143,368.3],[150,370],[160,372],[168,373.3],[183,375],[200,373.3],[227,371.7],[245.5,370]];
const cpl=el(defs,'clipPath',{id:'cpLW'});area(cpl,LWS,v=>v,394.5,'#000');
const gLW=el(c,'g',{'clip-path':'url(#cpLW)'});
[[135,148,'#22cc22'],[148,168,'#0a8a0a'],[168,197,'#0a4a8a'],[197,211,'#0a8a0a'],[211,227,'#0a4a8a'],[227,240,'#0a8a0a'],[240,245.5,'#22cc22']].forEach(b=>el(gLW,'rect',{x:b[0],y:316,width:b[1]-b[0],height:79,fill:b[2]}));
poly(c,LWS,null,{stroke:'#1c1c9a','stroke-width':2.5});
el(c,'line',{x1:135.5,y1:332,x2:138,y2:317,stroke:'#f00','stroke-width':1.2});
el(c,'circle',{cx:138,cy:317,r:1.8,fill:'#f00'});
[[138,147,340],[148,158,346.7],[162,168,351.7],[170,177,355],[177,185,358.3],[187,197,351.7],[197,207,351],[207,217,350],[217,227,351.7],[227,233,348.3],[233,240,344.3],[240,245.5,342.3]].forEach(d=>el(c,'line',{x1:d[0],y1:d[2],x2:d[1],y2:d[2],stroke:'#f00','stroke-width':1.2}));

for(let k=0;k<16;k++){const x=138+7*k;if(x>244)break;arrow(c,x+2.5,411.5,165,19,'#1c1ca6',1.4);}

el(c,'rect',{x:135,y:436,width:110.5,height:79.5,fill:'#8ad0fa'});
el(c,'rect',{x:170,y:436,width:62,height:79.5,fill:'#000',opacity:0.07});
poly(c,[[135,470],[147,465],[167,463.3],[187,465],[200,470],[217,473],[227,474],[245.5,470]],null,{stroke:'#ffa000','stroke-width':2});
[[138,502],[145,502],[183,500],[192,500],[183,508],[218,508],[225,508],[232,508],[240,508]].forEach(p=>el(c,'circle',{cx:p[0],cy:p[1],r:2.8,fill:'#fff'}));
[[170,488],[177,488],[184,494],[192,488],[200,493],[206,497],[213,500],[222,498],[230,500]].forEach(p=>el(c,'circle',{cx:p[0],cy:p[1],r:3,fill:'#bbb'}));
[[143,481],[150,493],[157,493],[165,493],[172,492],[178,492]].forEach(p=>el(c,'circle',{cx:p[0],cy:p[1],r:3,fill:'#666'}));
[[192,456],[198,464],[205,468],[212,469],[218,472],[226,469],[233,471],[240,471],[245,473],[184,488],[218,482],[227,487],[233,493],[240,492]].forEach(p=>el(c,'circle',{cx:p[0],cy:p[1],r:3.3,fill:'#000'}));
[[170,449],[177,449],[184,449],[191,449],[198,451],[205,449],[212,449],[219,449],[226,449],[233,449],[240,449],[150,458],[157,458],[164,458],[136,475],[139,475]].forEach(p=>el(c,'circle',{cx:p[0],cy:p[1],r:3.4,fill:'#aa2a2a'}));

el(c,'rect',{x:135,y:524.5,width:110.5,height:79.5,fill:'#87cefa'});
el(c,'polygon',{points:'165,604 165,590 172,575 180,560 190,545 197,532 205,545 213,530 225,524.5 232,524.5 240,535 245.5,540 245.5,604',fill:'#fff'});
el(c,'polygon',{points:'185,604 190,575 197,545 203,552 210,535 222,526 232,527 240,530 245.5,530 245.5,604',fill:'#a0a0a0'});
el(c,'polygon',{points:'135,604 135,580 143,563 150,575 160,585 165,600 175,578 183,565 190,578 200,567 210,550 220,540 228,535 238,545 245.5,560 245.5,604',fill:'#585858'});
el(c,'polygon',{points:'135,604 135,595 145,589 155,596 165,604',fill:'#2e2e2e'});
poly(c,[[205,545],[213,530],[222,526],[232,524.5]],null,{stroke:'#fff','stroke-width':1});
[218,225,232,240].forEach(x=>el(c,'rect',{x:x-1.5,y:593,width:3,height:11,fill:'#ffb400'}));

const gA={stroke:'#000','stroke-width':1,'stroke-dasharray':'3,3'};
function grid(x0,x1,y0,y1,ys,xs){ys.forEach(y=>el(gr,'line',Object.assign({x1:x0,y1:y,x2:x1,y2:y},gA)));xs.forEach(x=>el(gr,'line',Object.assign({x1:f1(x),y1:y0,x2:f1(x),y2:y1},gA)));}
const MX=[];for(let h=2;h<77;h+=3)MX.push(X(h));
const LX=[142.5,163.4,184.2,205,225.9];
const PAN=[[57,135],[143,221],[229,307],[316,395],[401,431],[436,516],[524.5,604.5]];
const MY=[[70.7,86.2,101.7,117.2,132.7],[148,162.4,176.8,191.2,205.6],[232,252,272,292],[320.25,345,369.75],[],[437.5,456.5,476,495.5],[525.6,545.2,564.8,584.4]];
const LY=[[59.8,76.7,93.6,110.5,127.4],[148,166,184,202],[231,254.7,278.3,302],[316.5,335,354.5,374],[],[437.5,456.5,476,495.5],[525.6,545.2,564.8,584.4]];
PAN.forEach((p,i)=>{grid(L,R,p[0],p[1],MY[i],MX);grid(135,245.5,p[0],p[1],LY[i],LX);
 el(fr,'rect',{x:L,y:p[0],width:R-L,height:p[1]-p[0],fill:'none',stroke:'#2a2a2a','stroke-width':1.6});
 el(fr,'rect',{x:135,y:p[0],width:110.5,height:p[1]-p[0],fill:'none',stroke:'#2a2a2a','stroke-width':1.6});});
})();
</script>
</body></html>
